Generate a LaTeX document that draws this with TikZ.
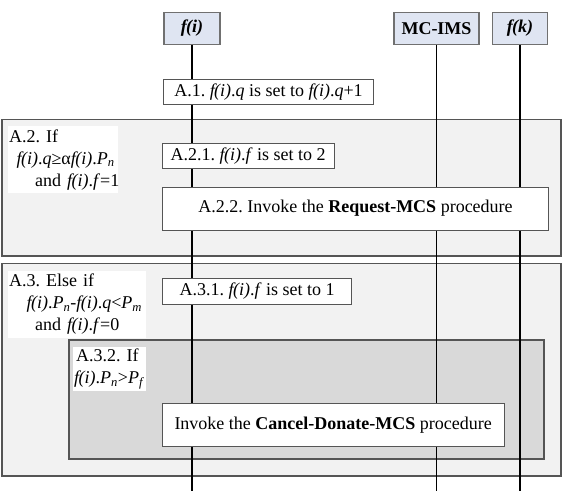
\documentclass[tikz,border=0pt]{standalone}
\usepackage{fontspec}
\setmainfont{Liberation Serif}
\frenchspacing
\definecolor{hdrfill}{HTML}{DFE5F2}
\definecolor{grpfill}{HTML}{F2F2F2}
\definecolor{innerfill}{HTML}{D9D9D9}
\definecolor{framecol}{HTML}{555555}
\definecolor{hdrframe}{HTML}{707070}
\newcommand{\fio}{\textit{f\kern-0.6pt(i)}}
\newcommand{\ix}[1]{\textit{#1}}
\newcommand{\sub}[1]{\textsubscript{\textit{#1}}}
\begin{document}
\begin{tikzpicture}[x=1pt,y=-1pt,
  every node/.style={font=\fontsize{18}{22}\selectfont},
  hdr/.style={draw=hdrframe,fill=hdrfill,line width=1.2pt,inner sep=0pt,minimum height=31.5pt},
  msg/.style={draw=framecol,fill=white,line width=1pt,inner sep=0pt},
  grp/.style={draw=framecol,line width=1.3pt},
  lbl/.style={fill=white,inner xsep=1pt,inner ysep=0pt,align=left,anchor=north west},
  life/.style={line width=1.8pt,black}]
\useasboundingbox (0,0) rectangle (564,496);
% group frames
\draw[grp,fill=grpfill] (2,119.5) rectangle (561,256);
\draw[grp,fill=grpfill] (2,263.5) rectangle (561,476);
\draw[grp,fill=innerfill] (69,340) rectangle (544,459);
% labels
\node[lbl,text width=108pt,minimum height=67pt] (l2) at (8,126)
  {\mbox{A.2. If}\\\mbox{\hspace*{7.5pt}\fio.\ix{q}≥α\fio.\ix{P}\sub{n}}\\\mbox{\hspace*{26pt}and \fio.\ix{f}=1}};
\node[lbl,text width=136pt,minimum height=67pt] (l3) at (8,270.5)
  {\mbox{A.3. Else if}\\\mbox{\hspace*{17.5pt}\fio.\ix{P}\sub{n}-\fio.\ix{q}<\ix{P}\sub{m}}\\\mbox{\hspace*{26pt}and \fio.\ix{f}=0}};
\node[lbl,text width=71pt,minimum height=44pt] (l32) at (73,347)
  {\mbox{\hspace*{2pt}A.3.2. If}\\\mbox{\fio.\ix{P}\sub{n}>\ix{P}\sub{f}}};
% headers
\node[hdr,minimum width=56pt] (fi) at (192,28.5) {\textbf{\textit{f\kern-0.6pt(i)}}};
\node[hdr,minimum width=85pt] (mc) at (436.5,28.5) {\textbf{MC-IMS}};
\node[hdr,minimum width=55pt] (fk) at (520,28.5) {\textbf{\textit{f\kern-0.6pt(k)}}};
\coordinate (fiend) at (192,491);
\coordinate (mcend) at (436.5,491);
\coordinate (fkend) at (520,491);
\draw[life] (fi.south) -- (fiend);
\draw[life] (mc.south) -- (mcend);
\draw[life] (fk.south) -- (fkend);
% messages
\node[msg,minimum width=210pt,minimum height=25pt] (a1) at (268.5,91.7) {A.1. \fio.\ix{q} is set to \fio.\ix{q}+1};
\node[msg,minimum width=172pt,minimum height=25pt] (a21) at (248.2,156) {A.2.1. \fio.\ix{f} is set to 2};
\node[msg,minimum width=385.6pt,minimum height=43pt] (a22) at (355.5,208.5) {A.2.2. Invoke the \textbf{Request-MCS} procedure};
\node[msg,minimum width=189pt,minimum height=25.5pt] (a31) at (257.2,291.3) {A.3.1. \fio.\ix{f} is set to 1};
\node[msg,minimum width=341.7pt,minimum height=42.7pt] (cd) at (333.2,425.3) {Invoke the \textbf{Cancel-Donate-MCS} procedure};
\end{tikzpicture}
\end{document}
